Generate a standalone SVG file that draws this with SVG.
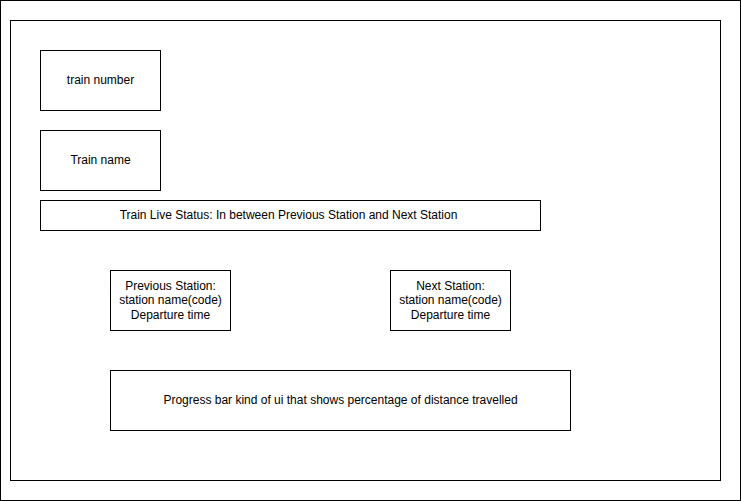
<svg xmlns="http://www.w3.org/2000/svg" width="741" height="501" viewBox="0 0 741 501">
<style>
rect.b{fill:#ffffff;stroke:#000000;stroke-width:1}
text{font-family:"Liberation Sans",Arial,Helvetica,sans-serif;font-size:12px;fill:#000000;text-anchor:middle}
</style>
<rect x="0" y="0" width="741" height="501" fill="#ffffff"/>
<g id="outer"><rect class="b" x="0.5" y="0.5" width="740" height="500"/></g>
<g id="inner"><rect class="b" x="10.5" y="20.5" width="710" height="460"/></g>
<g id="train-number"><rect class="b" x="40.5" y="50.5" width="120" height="60"/><text x="100.5" y="84">train number</text></g>
<g id="train-name"><rect class="b" x="40.5" y="130.5" width="120" height="60"/><text x="100.5" y="164">Train name</text></g>
<g id="live-status"><rect class="b" x="40.5" y="200.5" width="500" height="30"/><text x="288.5" y="219">Train Live Status: In between Previous Station and Next Station</text></g>
<g id="prev-station"><rect class="b" x="110.5" y="270.5" width="120" height="60"/><text x="170.5" y="290">Previous Station:</text><text x="170.5" y="304">station name(code)</text><text x="170.5" y="319">Departure time</text></g>
<g id="next-station"><rect class="b" x="390.5" y="270.5" width="120" height="60"/><text x="450.5" y="290">Next Station:</text><text x="450.5" y="304">station name(code)</text><text x="450.5" y="319">Departure time</text></g>
<g id="progress"><rect class="b" x="110.5" y="370.5" width="460" height="60"/><text x="340.5" y="404">Progress bar kind of ui that shows percentage of distance travelled</text></g>
<g id="connectors"></g>
</svg>
